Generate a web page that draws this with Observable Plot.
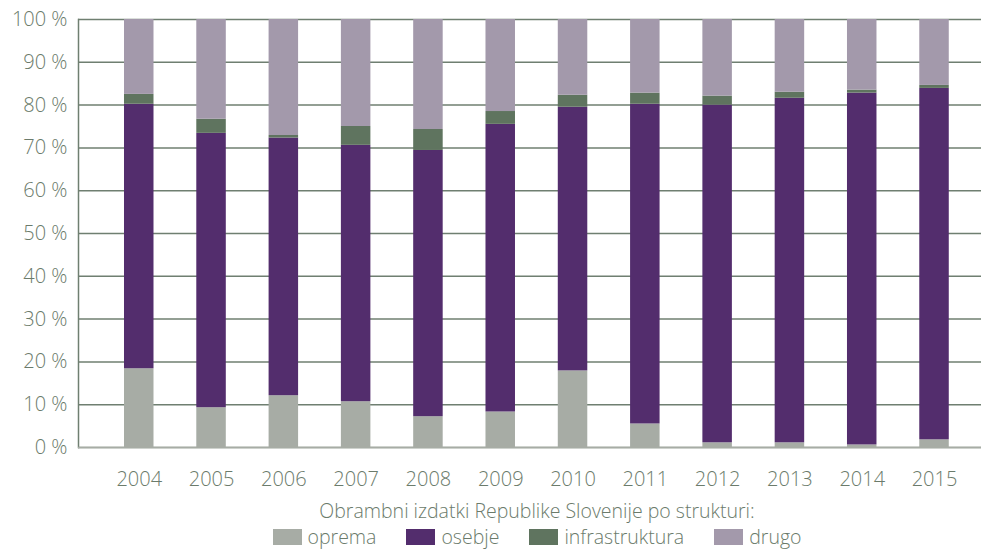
<!DOCTYPE html>
<html>
<head>
<meta charset="utf-8">
<script src="https://cdn.jsdelivr.net/npm/d3@7"></script>
<script src="https://cdn.jsdelivr.net/npm/@observablehq/plot@0.6"></script>
<style>
  body { margin: 0; background: #fff; font-family: "Open Sans", sans-serif; font-weight: 300; color: #6b7b6b; }
  #wrap { width: 981px; }
  #chart svg { display: block; }
  .title { padding-left: 93px; text-align: center; font-size: 19.5px; line-height: 26px; margin-top: -2px; white-space: nowrap; }
  .legend { padding-left: 93px; display: flex; justify-content: center; font-size: 19.5px; line-height: 26px; margin-top: 0; white-space: nowrap; }
  .item { display: flex; align-items: center; margin: 0 15px; }
  .sw { width: 29px; height: 16px; margin-right: 6px; }
  svg text { font-family: "Open Sans", sans-serif; font-weight: 300; }
</style>
</head>
<body>
<div id="wrap">
  <div id="chart"></div>
  <div class="title">Obrambni izdatki Republike Slovenije po strukturi:</div>
  <div class="legend" id="legend"></div>
</div>
<script>
const years = ["2004","2005","2006","2007","2008","2009","2010","2011","2012","2013","2014","2015"];
const series = ["oprema", "osebje", "infrastruktura", "drugo"];
const colors = ["#a7aca5", "#532d6d", "#5f745f", "#a399ab"];
const oprema = [18.4, 9.3, 12.1, 10.7, 7.2, 8.3, 17.9, 5.5, 1.1, 1.1, 0.6, 1.8];
const osebje = [61.8, 64.1, 60.2, 59.9, 62.2, 67.2, 61.6, 74.7, 78.9, 80.5, 82.2, 82.1];
const infrastruktura = [2.3, 3.3, 0.6, 4.4, 4.9, 3.0, 2.8, 2.6, 2.1, 1.4, 0.7, 0.7];
const drugo = [17.5, 23.3, 27.1, 25.0, 25.7, 21.5, 17.7, 17.2, 17.9, 17.0, 16.5, 15.4];
const yTicks = [0, 10, 20, 30, 40, 50, 60, 70, 80, 90, 100];

const valuesBySeries = { oprema, osebje, infrastruktura, drugo };
const data = [];
series.forEach(s => years.forEach((y, i) => data.push({ year: y, series: s, value: valuesBySeries[s][i] })));

const textColor = "#6b7b6b";
const chart = Plot.plot({
  width: 981,
  height: 500,
  marginLeft: 78,
  marginRight: 0,
  marginTop: 19,
  marginBottom: 53,
  style: { fontFamily: "'Open Sans', sans-serif", fontSize: "20px", color: textColor, background: "#fff" },
  x: { type: "band", domain: years, paddingInner: 0.592, paddingOuter: 0.541, align: 0.588, round: false, label: null },
  y: { domain: [0, 100], label: null },
  color: { domain: series, range: colors },
  marks: [
    Plot.ruleY(yTicks, { stroke: "#6f7f71", strokeWidth: 1.5 }),
    Plot.frame({ anchor: "left", stroke: "#6f7f71", strokeWidth: 1.5 }),
    Plot.barY(data, { x: "year", y: "value", fill: "series" }),
    Plot.ruleY([0], { stroke: "#a7aca5", strokeWidth: 1.6 }),
    Plot.axisY(yTicks, { tickSize: 0, tickPadding: 11, tickFormat: d => d + " %", fontSize: 20, fill: textColor }),
    Plot.axisX({ tickSize: 0, tickPadding: 24, fontSize: 20, fill: textColor })
  ]
});
document.getElementById("chart").appendChild(chart);

const leg = document.getElementById("legend");
series.forEach((s, i) => {
  const it = document.createElement("div");
  it.className = "item";
  const sw = document.createElement("div");
  sw.className = "sw";
  sw.style.background = colors[i];
  const t = document.createElement("span");
  t.textContent = s;
  it.appendChild(sw); it.appendChild(t);
  leg.appendChild(it);
});
</script>
</body>
</html>
